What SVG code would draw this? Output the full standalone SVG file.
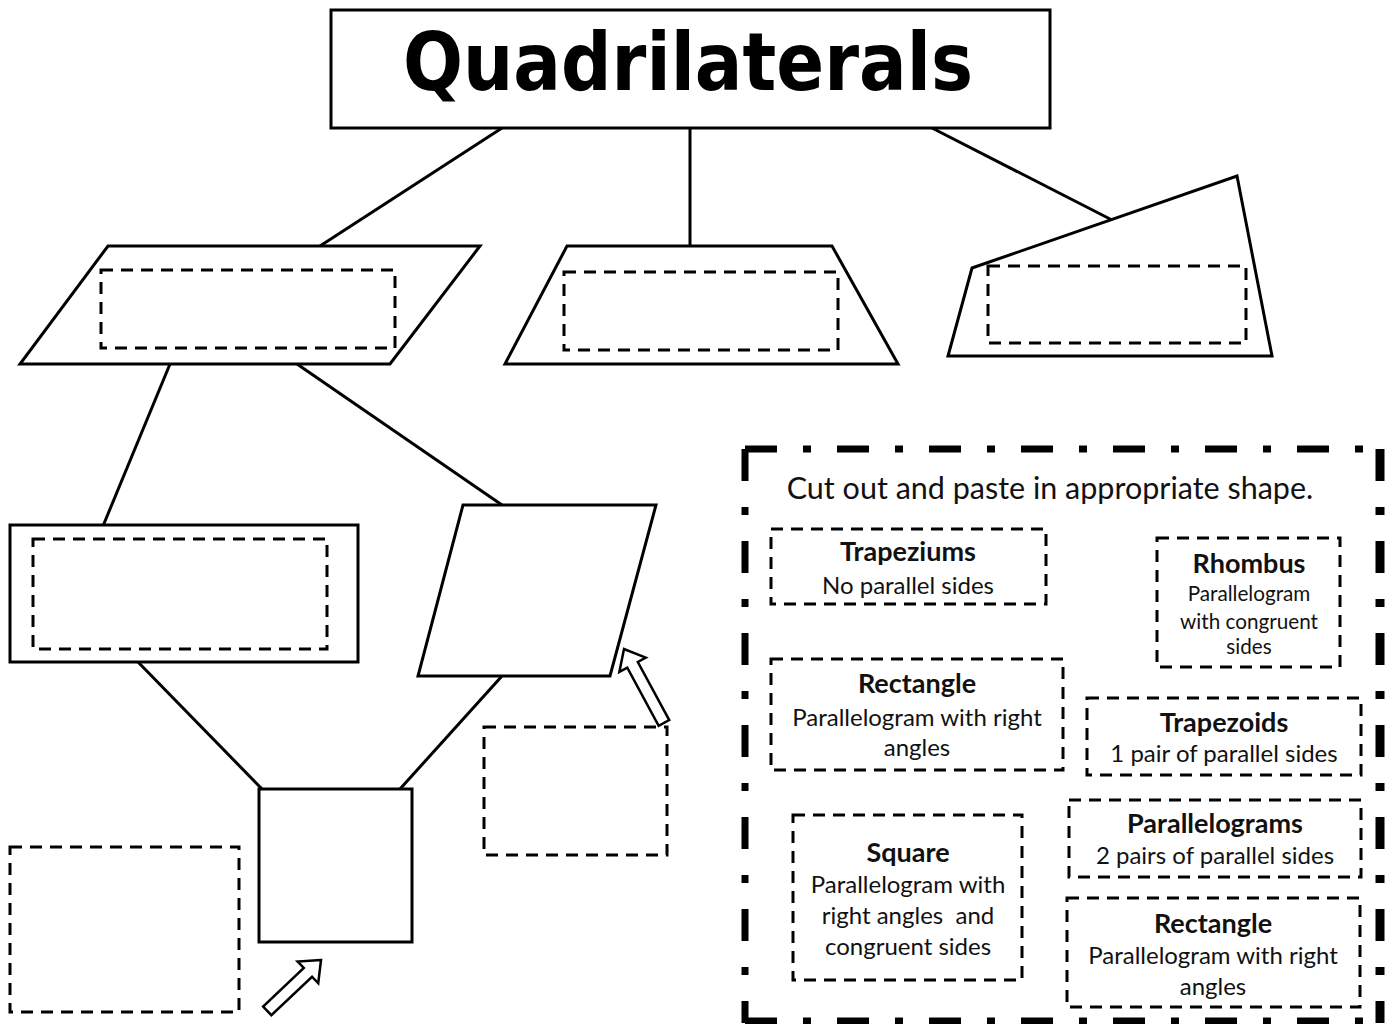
<svg xmlns="http://www.w3.org/2000/svg" width="1391" height="1024" viewBox="0 0 1391 1024">
<style>
.shape{fill:#fff;stroke:#000;stroke-width:3;stroke-linejoin:miter}
.slot{fill:none;stroke:#000;stroke-width:3;stroke-dasharray:12 8}
.card{fill:none;stroke:#000;stroke-width:3;stroke-dasharray:12 8}
.conn{stroke:#000;stroke-width:3;fill:none}
.arrow{fill:#fff;stroke:#000;stroke-width:2.5;stroke-linejoin:miter}
.h{font-family:Lato,"Open Sans",sans-serif;font-weight:bold;font-size:27px;text-anchor:middle;fill:#111}
.b{font-family:Lato,"Open Sans",sans-serif;font-size:24px;text-anchor:middle;fill:#111;white-space:pre}
.bs{font-family:Lato,"Open Sans",sans-serif;font-size:20.7px;text-anchor:middle;fill:#111}
</style>
<rect width="1391" height="1024" fill="#fff"/>
<g id="connectors">
<line class="conn" x1="502" y1="128" x2="320" y2="246"/>
<line class="conn" x1="690" y1="128" x2="690" y2="246"/>
<line class="conn" x1="932" y1="128" x2="1112" y2="220"/>
<line class="conn" x1="170" y1="364" x2="103" y2="526"/>
<line class="conn" x1="297" y1="364" x2="502" y2="505"/>
<line class="conn" x1="138" y1="662" x2="262" y2="789"/>
<line class="conn" x1="502" y1="676" x2="400" y2="789"/>
</g>
<g id="title">
<rect class="shape" x="331" y="10" width="719" height="118"/>
<text x="688" y="90" font-family="DejaVu Sans,sans-serif" font-weight="bold" font-size="80" text-anchor="middle" textLength="570" lengthAdjust="spacingAndGlyphs">Quadrilaterals</text>
</g>
<g id="parallelogram-top">
<polygon class="shape" points="108,246 480,246 390,364 20,364"/>
<rect class="slot" x="101" y="270" width="294" height="78"/>
</g>
<g id="trapezoid-top">
<polygon class="shape" points="567,246 832,246 898,364 505,364"/>
<rect class="slot" x="564" y="272" width="274" height="78"/>
</g>
<g id="quad-top">
<polygon class="shape" points="972,268 1237,176 1272,356 948,356"/>
<rect class="slot" x="988" y="266" width="258" height="77"/>
</g>
<g id="rectangle">
<rect class="shape" x="10" y="525" width="348" height="137"/>
<rect class="slot" x="33" y="539" width="294" height="110"/>
</g>
<g id="rhombus">
<polygon class="shape" points="463,505 656,505 610,676 418,676"/>
</g>
<g id="square">
<rect class="shape" x="259" y="789" width="153" height="153"/>
</g>
<g id="slot-rhombus">
<rect class="slot" x="484" y="727" width="183" height="128"/>
</g>
<g id="slot-square">
<rect class="slot" x="10" y="847" width="229" height="165"/>
</g>
<g id="arrow-rhombus">
<polygon class="arrow" transform="translate(624,649) rotate(-118.4)" points="0,0 -18,-15 -18,-6 -84,-6 -84,6 -18,6 -18,15"/>
</g>
<g id="arrow-square">
<polygon class="arrow" transform="translate(321,960) rotate(-43.4)" points="0,0 -18,-15 -18,-6 -74,-6 -74,6 -18,6 -18,15"/>
</g>
<g id="cutout-panel">
<path d="M745,449 H1381 M745,449 V1023 M745,1021 H1381" fill="none" stroke="#000" stroke-width="7" stroke-dasharray="32 26 8 26"/>
<path d="M1380,449 V1023" fill="none" stroke="#000" stroke-width="9" stroke-dasharray="32 26 8 26"/>
<text x="1050" y="499" font-family="Lato,'Open Sans',sans-serif" font-size="30.5" text-anchor="middle" fill="#111">Cut out and paste in appropriate shape.</text>
</g>
<g id="card-trapeziums">
<rect class="card" x="771" y="529" width="275" height="75"/>
<text class="h" x="908" y="561">Trapeziums</text>
<text class="b" x="908" y="594">No parallel sides</text>
</g>
<g id="card-rhombus">
<rect class="card" x="1157" y="538" width="183" height="129"/>
<text class="h" x="1249" y="573">Rhombus</text>
<text class="bs" x="1249" y="601">Parallelogram</text>
<text class="bs" x="1249" y="629">with congruent</text>
<text class="bs" x="1249" y="654">sides</text>
</g>
<g id="card-rectangle-1">
<rect class="card" x="771" y="659" width="292" height="111"/>
<text class="h" x="917" y="693">Rectangle</text>
<text class="b" x="917" y="726">Parallelogram with right</text>
<text class="b" x="917" y="756">angles</text>
</g>
<g id="card-trapezoids">
<rect class="card" x="1087" y="698" width="274" height="77"/>
<text class="h" x="1224" y="732">Trapezoids</text>
<text class="b" x="1224" y="762">1 pair of parallel sides</text>
</g>
<g id="card-square">
<rect class="card" x="793" y="815" width="229" height="165"/>
<text class="h" x="908" y="862">Square</text>
<text class="b" x="908" y="893">Parallelogram with</text>
<text class="b" x="908" y="924">right angles  and</text>
<text class="b" x="908" y="955">congruent sides</text>
</g>
<g id="card-parallelograms">
<rect class="card" x="1069" y="800" width="292" height="77"/>
<text class="h" x="1215" y="833">Parallelograms</text>
<text class="b" x="1215" y="864">2 pairs of parallel sides</text>
</g>
<g id="card-rectangle-2">
<rect class="card" x="1067" y="898" width="293" height="109"/>
<text class="h" x="1213" y="933">Rectangle</text>
<text class="b" x="1213" y="964">Parallelogram with right</text>
<text class="b" x="1213" y="995">angles</text>
</g>
</svg>
